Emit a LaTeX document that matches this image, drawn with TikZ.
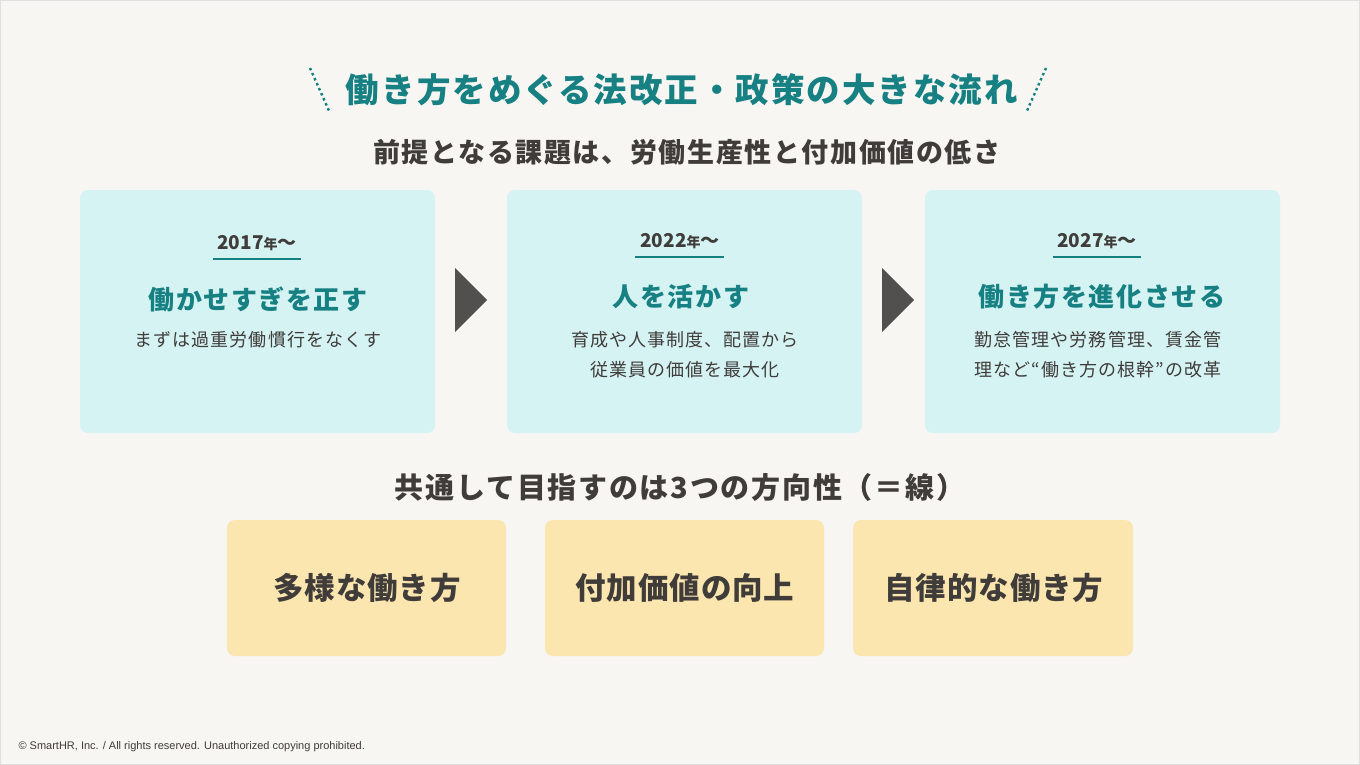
\documentclass[tikz,border=0pt]{standalone}
\usepackage{fontspec}
\setmainfont{Noto Sans CJK JP}[LetterSpace=6]
\newfontfamily\jpy{Noto Sans CJK JP}[LetterSpace=3]
\newfontfamily\jpn{Noto Sans CJK JP}
\newfontfamily\lat{Liberation Sans}
\definecolor{bg}{HTML}{F7F6F3}
\definecolor{teal}{HTML}{168082}
\definecolor{cyanbox}{HTML}{D5F3F3}
\definecolor{yel}{HTML}{FCE6B0}
\definecolor{ink}{HTML}{3F3C3A}
\begin{document}
\begin{tikzpicture}[x=1pt,y=-1pt,
  box/.style={fill=cyanbox,rounded corners=8pt,draw=none},
  ybox/.style={fill=yel,rounded corners=8pt,draw=none},
  yr/.style={font=\jpn\bfseries\fontsize{19}{22}\selectfont,text=ink,inner sep=1pt},
  head/.style={font=\bfseries\fontsize{26}{30}\selectfont,text=teal},
  desc/.style={font=\fontsize{18}{30}\selectfont,text=ink,align=center},
  ytext/.style={font=\jpy\bfseries\fontsize{30.5}{34}\selectfont,text=ink},
  tri/.style={fill=ink!90}]
\fill[bg] (0,0) rectangle (1360,765);
\draw[black!12] (0.5,0.5) rectangle (1359.5,764.5);
\node[font=\bfseries\fontsize{33.5}{38}\selectfont,text=teal] (title) at (682,90) {働き方をめぐる法改正・政策の大きな流れ};
\draw[teal,line width=2.4pt,dash pattern=on 2.5pt off 3pt] (310,68) -- (330,113);
\draw[teal,line width=2.4pt,dash pattern=on 2.5pt off 3pt] (1046,68) -- (1026,113);
\node[font=\bfseries\fontsize{27}{30}\selectfont,text=ink] (sub) at (687,152) {前提となる課題は、労働生産性と付加価値の低さ};
\fill[box] (80,190) rectangle (435,433);
\fill[box] (507,190) rectangle (862,433);
\fill[box] (925,190) rectangle (1280,433);
\node[yr] (y1) at (257,243) {2017{\fontsize{14}{16}\selectfont 年}～};
\node[yr] (y2) at (680,241) {2022{\fontsize{14}{16}\selectfont 年}～};
\node[yr] (y3) at (1097,241) {2027{\fontsize{14}{16}\selectfont 年}～};
\draw[teal,line width=2pt] (213,259) -- (301,259);
\draw[teal,line width=2pt] (635,257) -- (724,257);
\draw[teal,line width=2pt] (1053,257) -- (1141,257);
\node[head] (h1) at (258,299) {働かせすぎを正す};
\node[head] (h2) at (681,297) {人を活かす};
\node[head] (h3) at (1102,297) {働き方を進化させる};
\node[desc,anchor=north] (d1) at (258,328) {まずは過重労働慣行をなくす};
\node[desc,anchor=north] (d2) at (685,328) {育成や人事制度、配置から\\従業員の価値を最大化};
\node[desc,anchor=north] (d3) at (1098,328) {勤怠管理や労務管理、賃金管\\理など“働き方の根幹”の改革};
\fill[tri] (455,268) -- (487,300) -- (455,332) -- cycle;
\fill[tri] (882,268) -- (914,300) -- (882,332) -- cycle;
\node[font=\bfseries\fontsize{29}{32}\selectfont,text=ink] (c) at (680,487) {共通して目指すのは3つの方向性（＝線）};
\fill[ybox] (227,520) rectangle (506,656);
\fill[ybox] (545,520) rectangle (824,656);
\fill[ybox] (853,520) rectangle (1133,656);
\node[ytext] (t1) at (367,588) {多様な働き方};
\node[ytext] (t2) at (685,588) {付加価値の向上};
\node[ytext] (t3) at (994,588) {自律的な働き方};
\node[font=\lat\fontsize{11}{13}\selectfont,text=ink,anchor=west] (f) at (15,747) {© SmartHR, Inc. / All rights reserved. Unauthorized copying prohibited.};
\end{tikzpicture}
\end{document}
